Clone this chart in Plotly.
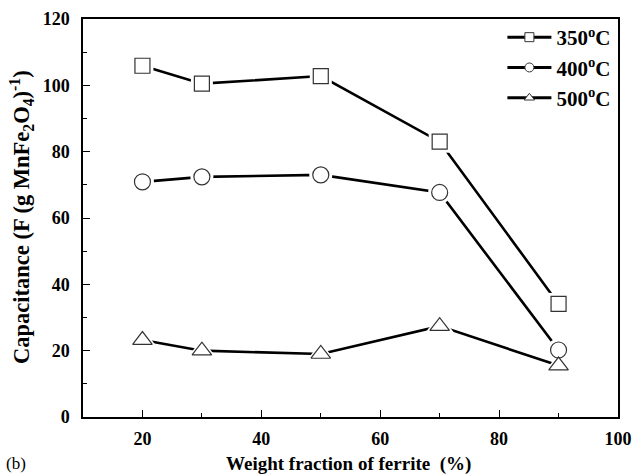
import plotly.graph_objects as go

# Weight fraction of ferrite (%)
ferrite_pct = [20, 30, 50, 70, 90]

# Specific capacitance, F per g MnFe2O4, for each annealing temperature
cap_350 = [105.9, 100.5, 102.8, 83.0, 34.1]
cap_400 = [70.9, 72.4, 73.0, 67.7, 20.2]
cap_500 = [23.2, 20.0, 19.0, 27.4, 15.5]

series = [
    ("350<sup>o</sup>C", cap_350, "square", 15),
    ("400<sup>o</sup>C", cap_400, "circle", 16),
    ("500<sup>o</sup>C", cap_500, "triangle-up", 17),
]

font_family = "Liberation Serif, Times New Roman, serif"

fig = go.Figure()

for name, vals, symbol, size in series:
    # connecting line
    fig.add_trace(go.Scatter(
        x=ferrite_pct, y=vals, mode="lines",
        line=dict(color="black", width=2.6),
        showlegend=False, hoverinfo="skip",
    ))
    # white halo leaving a small gap between line and symbol
    fig.add_trace(go.Scatter(
        x=ferrite_pct, y=vals, mode="markers",
        marker=dict(symbol=symbol, size=size + 7, color="white",
                    line=dict(width=0)),
        showlegend=False, hoverinfo="skip",
    ))

for name, vals, symbol, size in series:
    fig.add_trace(go.Scatter(
        x=ferrite_pct, y=vals, mode="markers", name=name,
        marker=dict(symbol=symbol, size=size, color="white",
                    line=dict(color="#333333", width=1.2)),
        showlegend=False,
    ))

# legend entries: line with symbol in the middle
for name, vals, symbol, size in series:
    fig.add_trace(go.Scatter(
        x=[None], y=[None], mode="lines+markers", name=name,
        line=dict(color="black", width=3),
        marker=dict(symbol=symbol, size=9, color="white",
                    line=dict(color="#333333", width=1)),
    ))

axis_common = dict(
    showline=True, linecolor="black", linewidth=1.5, mirror=True,
    ticks="inside", ticklen=7, tickwidth=1.3, tickcolor="black",
    showgrid=False, zeroline=False, automargin=False,
    tickfont=dict(family=font_family, size=18, color="black", weight="bold"),
)

fig.update_xaxes(
    range=[10, 100], tickvals=[20, 40, 60, 80, 100],
    minor=dict(tickvals=[30, 50, 70, 90], ticks="inside", ticklen=4,
               tickwidth=1.3, tickcolor="black"),
    ticklabelstandoff=5,
    **axis_common,
)
fig.update_yaxes(
    range=[0, 120], tickvals=[0, 20, 40, 60, 80, 100, 120],
    minor=dict(tickvals=[10, 30, 50, 70, 90, 110], ticks="inside",
               ticklen=4, tickwidth=1.3, tickcolor="black"),
    ticklabelstandoff=8,
    **axis_common,
)

fig.update_layout(
    width=634, height=475,
    margin=dict(l=83, r=16, t=19, b=58),
    paper_bgcolor="white", plot_bgcolor="white",
    font=dict(family=font_family, color="black"),
    legend=dict(
        x=0.997, y=1.005, xanchor="right", yanchor="top",
        bgcolor="rgba(0,0,0,0)", borderwidth=0,
        font=dict(family=font_family, size=21, color="black", weight="bold"),
        itemwidth=44,
    ),
    annotations=[
        dict(text="<b>Weight fraction of ferrite  (%)</b>",
             xref="paper", yref="paper", x=0.497, y=-0.118,
             xanchor="center", yanchor="middle", showarrow=False,
             font=dict(family=font_family, size=19, color="black")),
        dict(text="<b>Capacitance (F (g MnFe<sub>2</sub>O<sub>4</sub>)<sup>-1</sup>)</b>",
             xref="paper", yref="paper", x=-0.116, y=0.5025, textangle=-90,
             xanchor="center", yanchor="middle", showarrow=False,
             font=dict(family=font_family, size=22.5, color="black")),
        dict(text="(b)", xref="paper", yref="paper", x=-0.148, y=-0.118,
             xanchor="left", yanchor="middle", showarrow=False,
             font=dict(family=font_family, size=17, color="black")),
    ],
)

fig.write_html("out.html")
